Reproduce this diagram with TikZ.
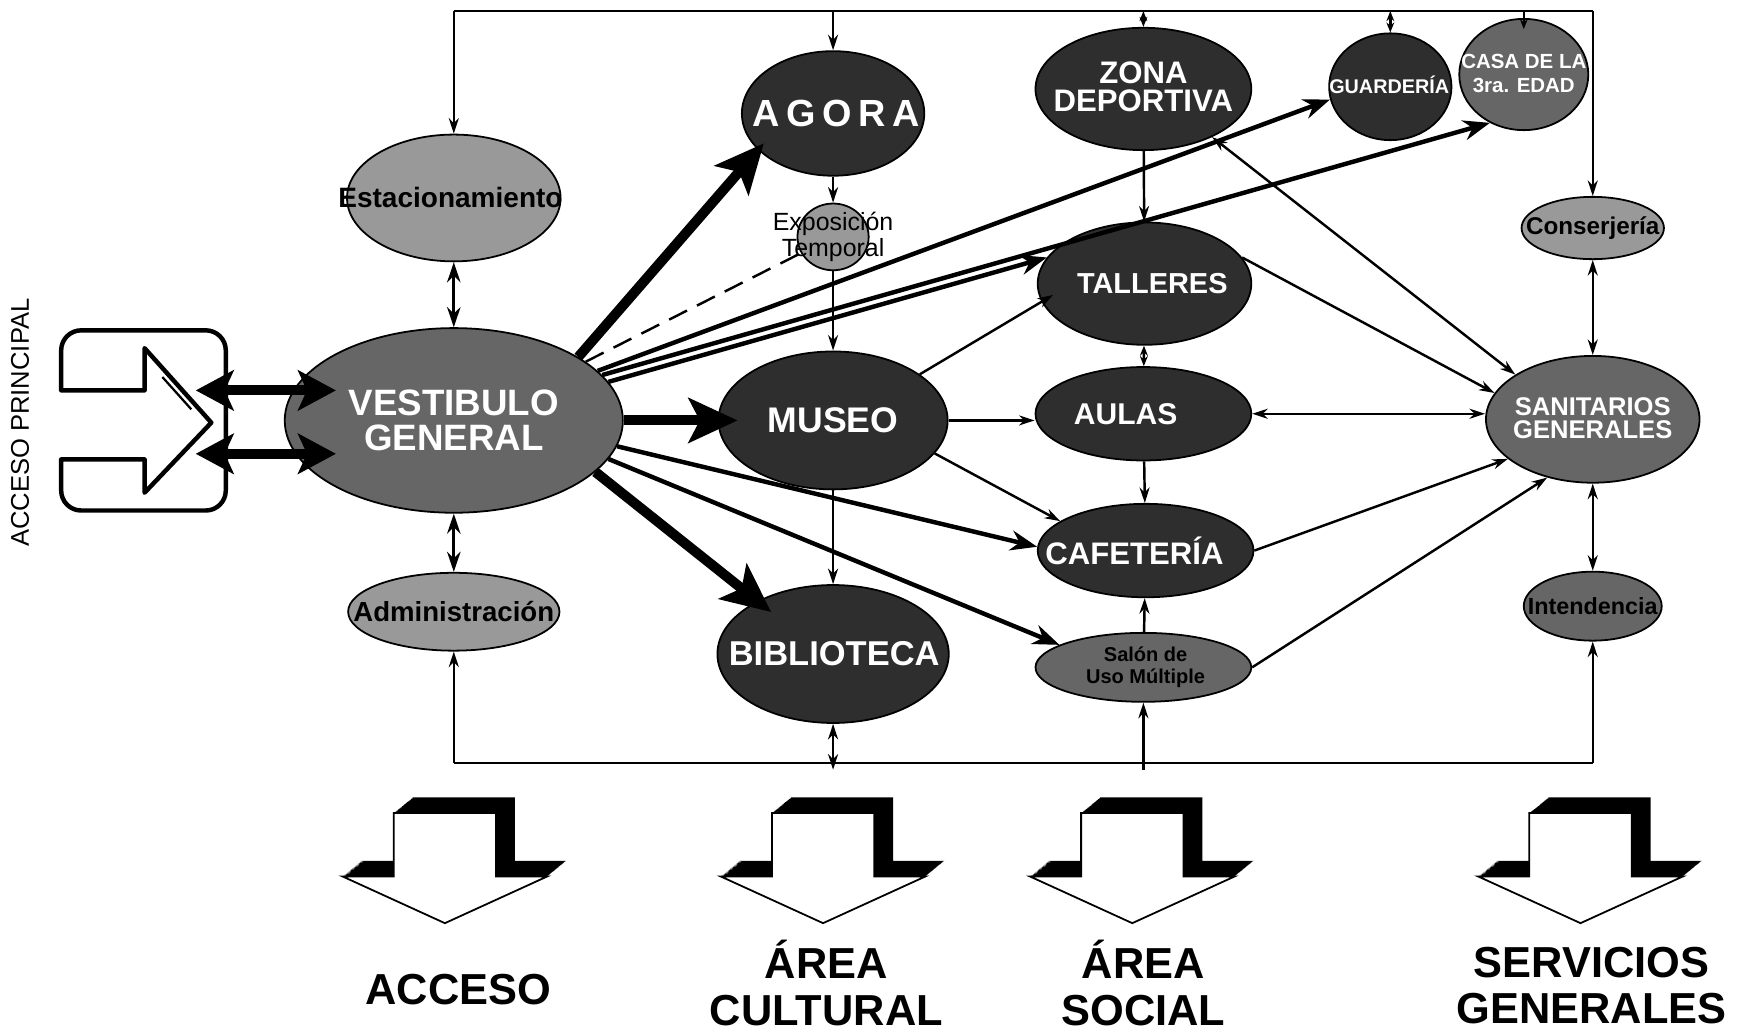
\documentclass[tikz,border=0pt]{standalone}
\usepackage{fontspec}
\setmainfont{Liberation Sans}
\usetikzlibrary{arrows.meta,shapes.geometric}
\newcommand\fsz[2]{\fontsize{#1}{#2}\selectfont}
\tikzset{
  stip/.tip={Stealth[length=7pt,width=4.5pt]},
  ttip/.tip={Stealth[length=4.5pt,width=3.5pt]},
  mtip/.tip={Stealth[length=12pt,width=9pt]},
  btip/.tip={Stealth[length=22pt,width=20pt,inset=5pt]},
  atip/.tip={Stealth[length=17pt,width=18pt,inset=4pt]},
  dtip/.tip={Stealth[length=9pt,width=6pt]},
  ell/.style={ellipse, draw=black, line width=0.8pt, inner sep=0pt},
  darkell/.style={ell, fill=black!82},
  midell/.style={ell, fill=black!60},
  lightell/.style={ell, fill=black!40},
  wlab/.style={inner sep=0pt, align=center, text=white},
  blab/.style={inner sep=0pt, align=center, text=black},
  link/.style={line width=1.1pt},
  medarr/.style={line width=2pt, -mtip},
  bigarr/.style={line width=4.5pt, -btip},
  accarr/.style={line width=4.5pt, atip-atip},
  dblarr/.style={line width=1.5pt, dtip-dtip},
  bottomlab/.style={inner sep=0pt, align=center, font=\bfseries\fsz{19.5}{21}},
  bigdown/.pic={
    \foreach \k in {0,1,...,20}{
      \fill[black, shift={(0.85*\k,-0.7*\k)}] (-46,0) -- (46,0) -- (46,57) -- (92,57) -- (0,99) -- (-92,57) -- (-46,57) -- cycle;
    }
    \filldraw[fill=white, draw=black, line width=0.8pt, line join=miter] (-46,0) -- (46,0) -- (46,57) -- (92,57) -- (0,99) -- (-92,57) -- (-46,57) -- cycle;
  }
}
\begin{document}
\begin{tikzpicture}[x=0.5pt,y=-0.5pt]
\fill[white] (0,0) rectangle (1568,930);
\useasboundingbox (0,0) rectangle (1568,930);

% ---------- ellipses ----------
\node[lightell, minimum width=96pt, minimum height=57pt] (estac) at (408,178) {};
\node[midell, minimum width=152pt, minimum height=83pt] (vest) at (408,378) {};
\node[lightell, minimum width=95pt, minimum height=35pt] (admin) at (408,550) {};
\node[darkell, minimum width=82pt, minimum height=56pt] (agora) at (749,102) {};
\node[lightell, minimum width=32pt, minimum height=30pt] (expo) at (749,213) {};
\node[darkell, minimum width=103pt, minimum height=62pt] (museo) at (749,378) {};
\node[darkell, minimum width=104pt, minimum height=62pt] (biblio) at (749,588) {};
\node[darkell, minimum width=97pt, minimum height=55pt] (zona) at (1028,80) {};
\node[darkell, minimum width=55pt, minimum height=48pt] (guard) at (1250,78) {};
\node[midell, minimum width=58pt, minimum height=50pt] (casa) at (1370,67) {};
\node[lightell, minimum width=64pt, minimum height=28pt] (conser) at (1432,205) {};
\node[darkell, minimum width=96pt, minimum height=55pt] (talleres) at (1029,255) {};
\node[darkell, minimum width=97pt, minimum height=42pt] (aulas) at (1028,372) {};
\node[midell, minimum width=96pt, minimum height=57pt] (sanit) at (1432,377) {};
\node[darkell, minimum width=97pt, minimum height=42pt] (cafe) at (1030,495) {};
\node[midell, minimum width=62pt, minimum height=31pt] (intend) at (1432,545) {};
\node[midell, minimum width=97pt, minimum height=31pt] (salon) at (1028,600) {};

% ---------- frame ----------
\coordinate (tl) at (408,10);
\coordinate (tr) at (1432,10);
\coordinate (bl) at (408,686);
\coordinate (br) at (1432,686);
\coordinate (t2) at (749,10);
\coordinate (t3) at (1028,10);
\coordinate (t4) at (1250,10);
\coordinate (t5) at (1370,10);
\coordinate (b2) at (749,692);
\coordinate (b3) at (1028,692);

\draw[link] (tl) -- (tr);
\draw[link] (bl) -- (br);
\draw[link,-stip] (tl) -- (estac);
\draw[link,-stip] (bl) -- (admin);
\draw[link,-stip] (tr) -- (conser);
\draw[link,-stip] (br) -- (intend);
\draw[link,stip-stip] (conser) -- (sanit);
\draw[link,stip-stip] (sanit) -- (intend);
\draw[dblarr] (estac) -- (vest);
\draw[dblarr] (vest) -- (admin);
\draw[link,-stip] (t2) -- (agora);
\draw[link,-stip] (agora) -- (expo);
\draw[link,-stip] (expo) -- (museo);
\draw[link,-stip] (museo) -- (biblio);
\draw[link,stip-stip] (biblio) -- (b2);
\draw[link,ttip-ttip] (t3) -- (zona);
\draw[link,-stip] (zona) -- (talleres);
\draw[link,ttip-ttip] (talleres) -- (aulas);
\draw[link,-stip] (aulas) -- (cafe);
\draw[link,-stip] (salon) -- (cafe);
\draw[link,-stip] (b3) -- (salon);
\draw[link,ttip-ttip] (t4) -- (guard);
\draw[link,-ttip, shorten >=-5pt] (t5) -- (casa);

% ---------- from museo ----------
\draw[link,-stip, shorten >=-6pt] (museo.28) -- (talleres.190);
\draw[link,-stip] (museo.east) -- (museo.east -| aulas.west);
\draw[link,-stip] (museo.-18) -- (cafe.161);

% ---------- to sanitarios ----------
\draw[link,stip-stip] (zona.-35) -- (sanit.150);
\draw[link,-stip] (talleres.15) -- (sanit.165);
\draw[link,stip-stip] (aulas.east) -- (aulas.east -| sanit.west);
\draw[link,-stip] (cafe.east) -- (sanit.205);
\draw[link,-stip] (salon.east) -- (sanit.232);

% ---------- from vestibulo ----------
\draw[link, dashed, dash pattern=on 9pt off 5pt] (vest.24) -- (expo);
\draw[medarr] (vest.19) -- (guard.192);
\draw[medarr] (vest.17) -- (casa.235);
\draw[medarr] (vest.14) -- (talleres.165);
\draw[medarr] (vest.-9) -- (cafe.178);
\draw[medarr] (vest.-14) -- (salon.165);
\draw[bigarr, shorten >=-4pt] (vest.27) -- (agora.206);
\draw[bigarr, shorten >=-9pt] (vest.east) -- (museo.west);
\draw[bigarr, shorten >=-8pt] (vest.-20) -- (biblio.145);

% ---------- access icon ----------
\draw[line width=2pt, line join=round]
  [rounded corners=9pt] (55,351) -- (55,297) -- (203,297) -- (203,459) -- (55,459)
  [sharp corners] -- (55,413) -- (130,413) -- (130,443) -- (190,380) -- (130,313) -- (130,351) -- cycle;
\draw[line width=1pt] (146,339) -- (172,368);
\coordinate (ain1) at (176,351);
\coordinate (vin1) at (302,351);
\coordinate (ain2) at (176,408);
\coordinate (vin2) at (302,408);
\draw[accarr] (ain1) -- (vin1);
\draw[accarr] (ain2) -- (vin2);
\node[rotate=90, inner sep=0pt, font=\fsz{11.5}{13}] (accp) at (18,380) {ACCESO PRINCIPAL};

% ---------- texts in ellipses ----------
\node[blab, font=\bfseries\fsz{12.6}{14}] (estac-t) at (405,178) {Estacionamiento};
\node[wlab, font=\bfseries\fsz{16.5}{15.5}] (vest-t) at (408,378) {VESTIBULO\\GENERAL};
\node[blab, font=\bfseries\fsz{12.4}{14}] (admin-t) at (408,550) {Administración};
\node[wlab, font=\bfseries\fsz{17}{18}] (agora-t) at (752,102) {A\hspace{3pt}G\hspace{3pt}O\hspace{3pt}R\hspace{3pt}A};
\node[blab, font=\fsz{11.2}{11.5}] (expo-t) at (749,213) {Exposición\\Temporal};
\node[wlab, font=\bfseries\fsz{16}{17}] (museo-t) at (749,378) {MUSEO};
\node[wlab, font=\bfseries\fsz{15.5}{17}] (biblio-t) at (750,588) {BIBLIOTECA};
\node[wlab, font=\bfseries\fsz{14}{12.5}] (zona-t) at (1028,78) {ZONA\\DEPORTIVA};
\node[wlab, font=\bfseries\fsz{8.9}{10}] (guard-t) at (1249,76) {GUARDERÍA};
\node[wlab, font=\bfseries\fsz{9.2}{10.5}] (casa-t) at (1370,66) {CASA DE LA\\3ra. EDAD};
\node[blab, font=\bfseries\fsz{10.9}{12}] (conser-t) at (1432,205) {Conserjería};
\node[wlab, font=\bfseries\fsz{13}{14}] (talleres-t) at (1036,255) {TALLERES};
\node[wlab, font=\bfseries\fsz{13.5}{14}] (aulas-t) at (1012,372) {AULAS};
\node[wlab, font=\bfseries\fsz{11.5}{10.5}] (sanit-t) at (1432,376) {SANITARIOS\\GENERALES};
\node[wlab, font=\bfseries\fsz{14}{15}] (cafe-t) at (1020,495) {CAFETERÍA};
\node[blab, font=\bfseries\fsz{10.5}{12}] (intend-t) at (1432,545) {Intendencia};
\node[blab, font=\bfseries\fsz{9}{10}] (salon-t) at (1030,600) {Salón de\\Uso Múltiple};

% ---------- bottom arrows and labels ----------
\pic (arr1) at (400,731) {bigdown};
\pic (arr2) at (740,731) {bigdown};
\pic (arr3) at (1018,731) {bigdown};
\pic (arr4) at (1421,731) {bigdown};
\node[bottomlab] (lab1) at (412,890) {ACCESO};
\node[bottomlab] (lab2) at (743,884) {ÁREA\\CULTURAL};
\node[bottomlab] (lab3) at (1028,884) {ÁREA\\SOCIAL};
\node[bottomlab] (lab4) at (1431,886) {SERVICIOS\\GENERALES};
\end{tikzpicture}
\end{document}
